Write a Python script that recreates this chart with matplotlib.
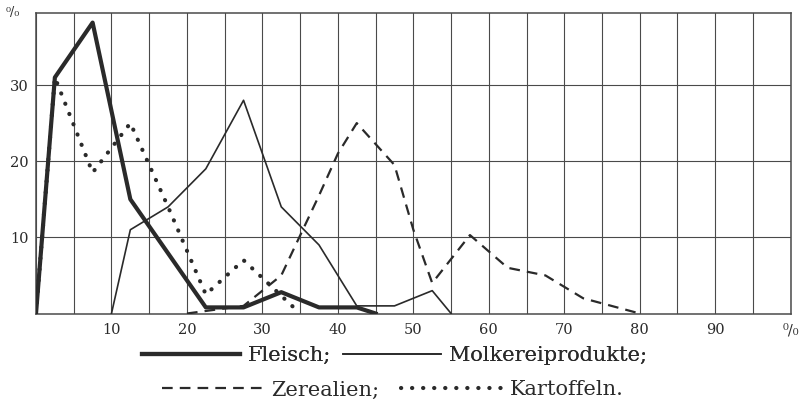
import matplotlib.pyplot as plt
from matplotlib.ticker import MultipleLocator

# values (x: percent class, y: percent share)
fleisch_x = [0, 2.5, 7.5, 12.5, 22.5, 27.5, 32.5, 37.5, 42.5, 45]
fleisch_y = [0, 31, 38.2, 15, 0.8, 0.8, 2.8, 0.8, 0.8, 0]

molkerei_x = [10, 12.5, 17.5, 22.5, 27.5, 32.5, 37.5, 42.5, 47.5, 52.5, 55]
molkerei_y = [0, 11, 14, 19, 28, 14, 9, 1, 1, 3, 0]

zerealien_x = [20, 27.5, 32.5, 37.5, 40, 42.5, 47.5, 50, 52.5, 57.5, 62.5, 67.5, 72.5, 80]
zerealien_y = [0, 1, 5, 15.5, 21, 25, 19.5, 11, 4, 10.3, 6, 5, 2, 0]

kartoffeln_x = [0, 2.5, 7.5, 12.5, 17.5, 22.5, 27.5, 35]
kartoffeln_y = [0, 31, 18.5, 25, 14, 2.5, 7, 0]

x_ticks = [10, 20, 30, 40, 50, 60, 70, 80, 90, 100]
x_ticklabels = ["10", "20", "30", "40", "50", "60", "70", "80", "90", "⁰/₀"]
y_ticks = [10, 20, 30]

INK = "#2a2a2a"
GRID = "#4a4a4a"
plt.rcParams["font.family"] = ["DejaVu Serif"]

fig = plt.figure(figsize=(8.02, 4.18), dpi=100)
ax = fig.add_axes([0.0449, 0.25, 0.941, 0.7196])

ax.plot(fleisch_x, fleisch_y, color=INK, lw=3.0, solid_joinstyle="round",
        label="Fleisch;", zorder=4)
ax.plot(molkerei_x, molkerei_y, color=INK, lw=1.2, label="Molkereiprodukte;", zorder=3)
ax.plot(zerealien_x, zerealien_y, color=INK, lw=1.6, linestyle=(0, (4.8, 3.2)),
        label="Zerealien;", zorder=3)
ax.plot(kartoffeln_x, kartoffeln_y, color=INK, lw=3.0, linestyle=(0, (0.05, 2.6)),
        dash_capstyle="round", label="Kartoffeln.", zorder=3)

ax.set_xlim(0, 100)
ax.set_ylim(0, 39.5)
ax.set_xticks(x_ticks)
ax.set_xticklabels(x_ticklabels)
ax.xaxis.set_minor_locator(MultipleLocator(5))
ax.set_yticks(y_ticks)
ax.tick_params(which="both", length=0, labelsize=10.5, colors=INK)
ax.tick_params(axis="x", pad=7)
ax.tick_params(axis="y", pad=5)
ax.grid(True, which="both", axis="x", color=GRID, lw=0.8)
ax.grid(True, which="major", axis="y", color=GRID, lw=0.8)
for s in ax.spines.values():
    s.set_color(GRID)
    s.set_linewidth(1.1)

ax.text(-0.021, 1.0, "⁰/₀", transform=ax.transAxes, ha="right", va="center",
        fontsize=9, color=INK)

handles, labels = ax.get_legend_handles_labels()
leg1 = fig.legend(handles[:2], labels[:2], loc="center", bbox_to_anchor=(0.492, 0.15),
                  ncol=2, frameon=False, fontsize=15, handlelength=4.7,
                  handletextpad=0.35, columnspacing=0.6, labelcolor=INK)
fig.add_artist(leg1)
fig.legend(handles[2:], labels[2:], loc="center", bbox_to_anchor=(0.49, 0.067),
           ncol=2, frameon=False, fontsize=15, handlelength=4.8,
           handletextpad=0.45, columnspacing=1.0, labelcolor=INK)

fig.savefig("out.png", dpi=100)
